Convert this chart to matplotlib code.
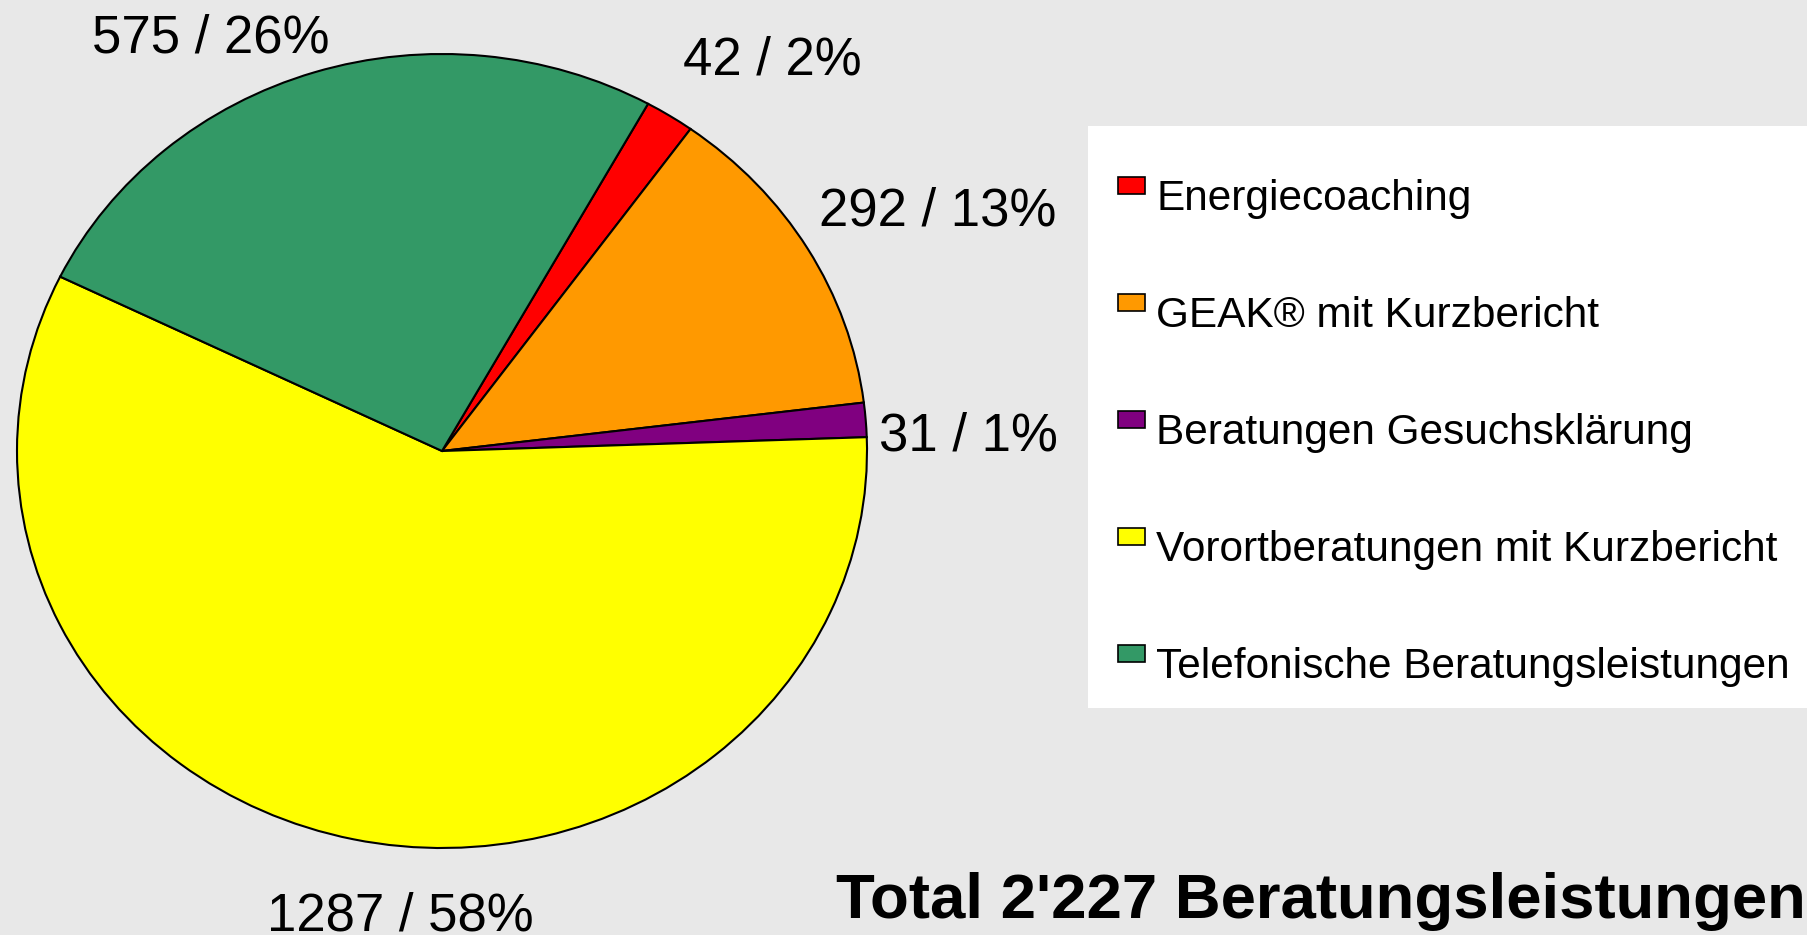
import matplotlib
matplotlib.use("Agg")
import matplotlib.pyplot as plt
from matplotlib.patches import Rectangle
import numpy as np

plt.rcParams['font.family'] = ['Liberation Sans', 'DejaVu Sans']

categories = ["Energiecoaching", "GEAK® mit Kurzbericht", "Beratungen Gesuchsklärung",
              "Vorortberatungen mit Kurzbericht", "Telefonische Beratungsleistungen"]
values = [42, 292, 31, 1287, 575]
colors = ["#ff0000", "#ff9900", "#800080", "#ffff00", "#339966"]
title_text = "Total {} Beratungsleistungen"

# label layout (radius in pie units, angular shift from wedge middle, degrees)
label_r = [1.226, 1.297, 1.239, 1.211, 1.143]
label_shift = [-6.9, -4.6, -4.4, 7.4, 11.0]

W, H = 1807, 935
bg = "#e8e8e8"
fig = plt.figure(figsize=(W / 100, H / 100), dpi=100, facecolor=bg)

# pie axes (elliptical pie): pixel box
cx, cy, rx, ry = 442, 451, 425, 397
ax = fig.add_axes([(cx - rx) / W, (H - cy - ry) / H, 2 * rx / W, 2 * ry / H])
ax.set_facecolor(bg)
wedges, _ = ax.pie(values, colors=colors, startangle=61, counterclock=False,
                   wedgeprops=dict(edgecolor="black", linewidth=1.5))
ax.set_aspect('auto')
ax.set_xlim(-1, 1)
ax.set_ylim(-1, 1)
ax.axis('off')

total = sum(values)
for w, v, r, s in zip(wedges, values, label_r, label_shift):
    mid = np.deg2rad((w.theta1 + w.theta2) / 2 + s)
    ax.text(r * np.cos(mid), r * np.sin(mid), f"{v} / {round(100 * v / total)}%",
            ha='center', va='baseline', fontsize=38, color='black', clip_on=False)

# legend box
fig.patches.append(Rectangle((1088 / W, (H - 708) / H), (W - 1088 + 5) / W, (708 - 126) / H,
                             transform=fig.transFigure, facecolor='white', edgecolor='none'))
row0_base = 210
row_step = 116.9
for i, (cat, col) in enumerate(zip(categories, colors)):
    base = row0_base + i * row_step
    top = base - 33
    fig.patches.append(Rectangle((1118 / W, (H - (top + 17)) / H), 27 / W, 17 / H,
                                 transform=fig.transFigure, facecolor=col,
                                 edgecolor='black', linewidth=1.2))
    fig.text(1156 / W, (H - base) / H, cat, ha='left', va='baseline', fontsize=30.5)

fig.text(836 / W, (H - 918) / H, title_text.format(f"{total:,}".replace(",", "'")),
         ha='left', va='baseline', fontsize=45.7, fontweight='bold')

fig.savefig("out.png", dpi=100, facecolor=bg)
